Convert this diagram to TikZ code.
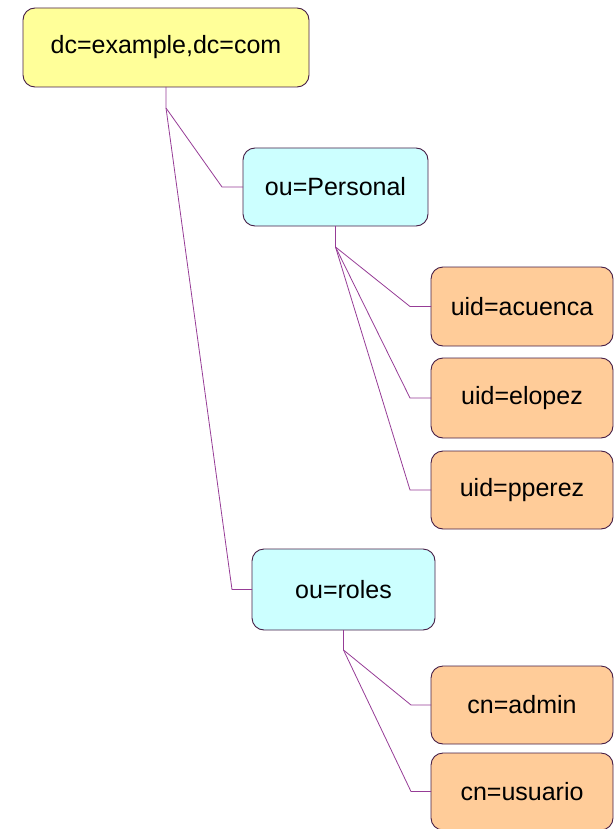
\documentclass[tikz,border=0pt]{standalone}
\usepackage{fontspec}
\setmainfont{Liberation Sans}
\definecolor{rootfill}{RGB}{255,255,153}
\definecolor{oufill}{RGB}{204,255,255}
\definecolor{leaffill}{RGB}{255,204,153}
\definecolor{boxline}{RGB}{70,30,70}
\definecolor{wire}{RGB}{150,60,150}
\tikzset{
  box/.style={draw=boxline, line width=0.9pt, rounded corners=12pt, inner sep=0pt, outer sep=0pt,
    font=\fontsize{25}{30}\selectfont, text=black},
  rootbox/.style={box, fill=rootfill},
  oubox/.style={box, fill=oufill},
  leafbox/.style={box, fill=leaffill},
  wireline/.style={draw=wire, line width=0.8pt},
}
\begin{document}
\begin{tikzpicture}[x=1pt,y=-1pt]
\useasboundingbox (0,0) rectangle (614,829);
\node[rootbox, minimum width=286pt, minimum height=79pt] (root) at (166,47.5) {dc=example,dc=com};
\node[oubox, minimum width=185pt, minimum height=78pt] (pers) at (335.5,187) {ou=Personal};
\node[leafbox, minimum width=182pt, minimum height=79pt] (acu) at (522,306.5) {uid=acuenca};
\node[leafbox, minimum width=182pt, minimum height=80pt] (elo) at (522,398) {uid=elopez};
\node[leafbox, minimum width=182pt, minimum height=78pt] (ppe) at (522,490) {uid=pperez};
\node[oubox, minimum width=183pt, minimum height=81pt] (roles) at (343.5,589.5) {ou=roles};
\node[leafbox, minimum width=182pt, minimum height=78pt] (adm) at (522,705) {cn=admin};
\node[leafbox, minimum width=182pt, minimum height=77pt] (usu) at (522,791.5) {cn=usuario};

\coordinate (j0) at (166,108);
\coordinate (e1) at (222,187);
\coordinate (e2) at (232,589.5);
\draw[wireline] (root.south) -- (j0) -- (e1) -- (pers.west);
\draw[wireline] (j0) -- (e2) -- (roles.west);

\coordinate (j1) at (335.5,247);
\coordinate (e3) at (410,306.5);
\coordinate (e4) at (410,398);
\coordinate (e5) at (410,490);
\draw[wireline] (pers.south) -- (j1) -- (e3) -- (acu.west);
\draw[wireline] (j1) -- (e4) -- (elo.west);
\draw[wireline] (j1) -- (e5) -- (ppe.west);

\coordinate (j2) at (343.5,650);
\coordinate (e6) at (411,705);
\coordinate (e7) at (411,791.5);
\draw[wireline] (roles.south) -- (j2) -- (e6) -- (adm.west);
\draw[wireline] (j2) -- (e7) -- (usu.west);
\end{tikzpicture}
\end{document}
